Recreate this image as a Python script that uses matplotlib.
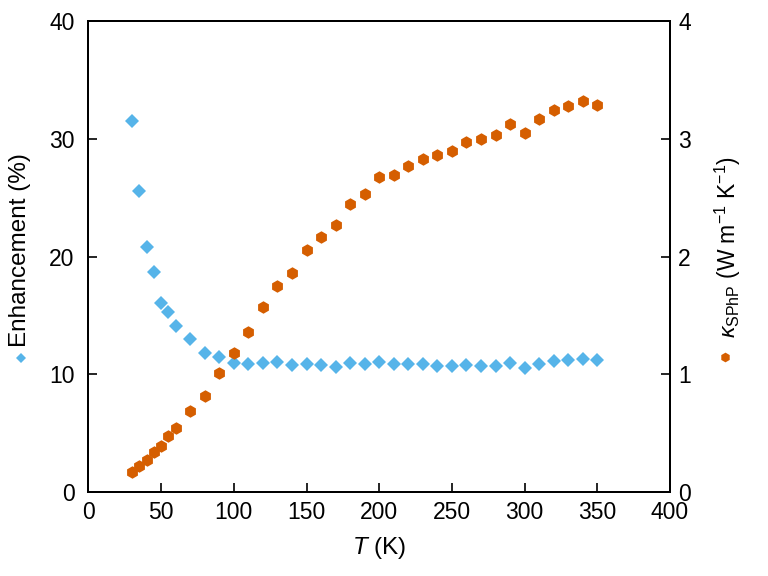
import matplotlib
matplotlib.use("Agg")
import matplotlib.pyplot as plt
from matplotlib.lines import Line2D

plt.rcParams["font.family"] = ["Liberation Sans", "DejaVu Sans"]
plt.rcParams["mathtext.fontset"] = "custom"
plt.rcParams["mathtext.rm"] = "Liberation Sans"
plt.rcParams["mathtext.it"] = "Liberation Sans:italic"
plt.rcParams["mathtext.sf"] = "Liberation Sans"

# ---- data ----
T_enh = [30, 35, 40, 45, 50, 55, 60, 70, 80, 90, 100, 110, 120, 130, 140, 150,
         160, 170, 180, 190, 200, 210, 220, 230, 240, 250, 260, 270, 280, 290,
         300, 310, 320, 330, 340, 350]
enhancement = [31.5, 25.6, 20.8, 18.7, 16.1, 15.3, 14.1, 13.0, 11.8, 11.5, 11.0,
               10.9, 11.0, 11.1, 10.8, 10.85, 10.8, 10.6, 11.0, 10.85, 11.1, 10.85,
               10.85, 10.85, 10.7, 10.7, 10.8, 10.7, 10.7, 11.0, 10.55, 10.9, 11.15,
               11.2, 11.35, 11.2]

T_kappa = T_enh
kappa = [0.17, 0.22, 0.27, 0.34, 0.39, 0.48, 0.55, 0.69, 0.82, 1.01, 1.18, 1.36,
         1.57, 1.75, 1.86, 2.06, 2.17, 2.27, 2.45, 2.53, 2.675, 2.695, 2.77, 2.825,
         2.86, 2.9, 2.975, 3.0, 3.035, 3.13, 3.05, 3.165, 3.245, 3.275, 3.32, 3.29]

BLUE = "#56B4E9"
ORANGE = "#D55E00"
FS_TICK = 16.5
FS_LAB = 17.5

fig = plt.figure(figsize=(7.68, 5.76), dpi=100)
ax = fig.add_axes([0.1152, 0.1453, 0.8724 - 0.1152, 0.9635 - 0.1453])
ax2 = ax.twinx()

ax.plot(T_enh, enhancement, linestyle="none", marker="D", ms=7,
        color=BLUE, mew=0)
ax2.plot(T_kappa, kappa, linestyle="none", marker="h", ms=9,
         color=ORANGE, mew=0)

ax.set_xlim(0, 400)
ax.set_ylim(0, 40)
ax2.set_ylim(0, 4)
ax.set_xticks(range(0, 401, 50))
ax.set_yticks(range(0, 41, 10))
ax2.set_yticks(range(0, 5))

for a in (ax, ax2):
    for s in a.spines.values():
        s.set_linewidth(1.4)
ax.tick_params(axis="x", direction="in", length=6.5, width=1.2,
               labelsize=FS_TICK, pad=6.5, top=False)
ax.tick_params(axis="y", direction="in", length=6.5, width=1.2,
               labelsize=FS_TICK, pad=10, right=False)
ax2.tick_params(axis="y", direction="in", length=6.5, width=1.2,
                labelsize=FS_TICK, pad=6)

ax.set_xlabel("$T$ (K)", fontsize=FS_LAB, labelpad=8)

# y labels with their marker keys
fig.text(0.026, 0.3976, "Enhancement (%)", rotation=90, ha="center",
         va="bottom", fontsize=FS_LAB)
fig.add_artist(Line2D([0.027], [0.3785], marker="D", ms=5.5, color=BLUE,
                      mew=0, transform=fig.transFigure))
fig.text(0.948, 0.413, r"$\kappa_{\mathrm{SPhP}}$ (W m$^{-1}$ K$^{-1}$)",
         rotation=90, ha="center", va="bottom", fontsize=16.5)
fig.add_artist(Line2D([0.944], [0.380], marker="h", ms=7, color=ORANGE,
                      mew=0, transform=fig.transFigure))

fig.savefig("out.png", dpi=100)
